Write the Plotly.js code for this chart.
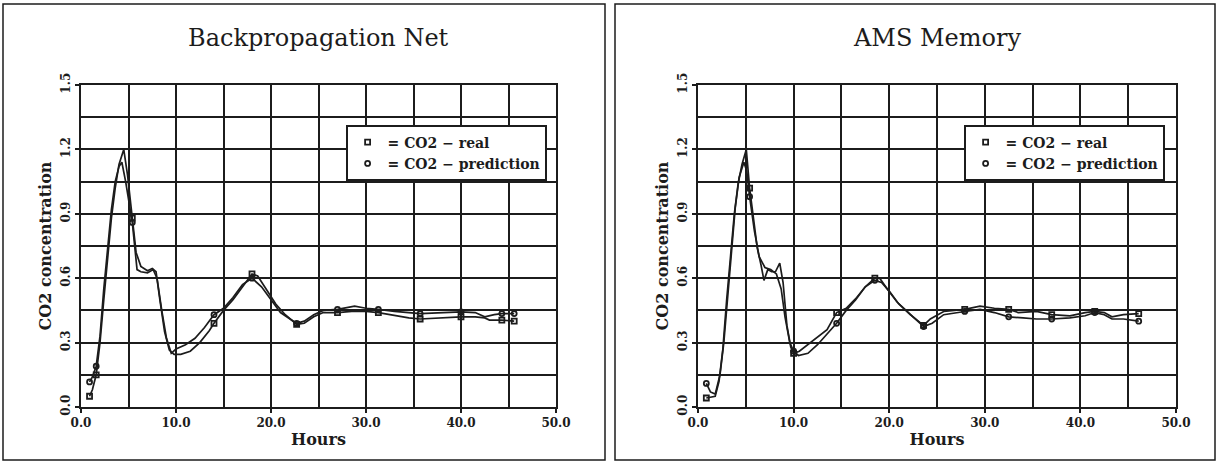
<!DOCTYPE html>
<html>
<head>
<meta charset="utf-8">
<script src="https://cdn.plot.ly/plotly-3.0.1.min.js"></script>
<style>html,body{margin:0;padding:0;background:#fff}#chart{width:1218px;height:462px}</style>
</head>
<body>
<div id="chart"></div>
<script>
// ---------- data ----------
const panelTitles = ['Backpropagation Net', 'AMS Memory'];
const legendNames = ['= CO2 \u2212 real', '= CO2 \u2212 prediction'];
const xTickVals = [0, 10, 20, 30, 40, 50];
const xTickText = ['0.0', '10.0', '20.0', '30.0', '40.0', '50.0'];
const yTickVals = [0, 0.3, 0.6, 0.9, 1.2, 1.5];
const yTickText = ['0.0', '0.3', '0.6', '0.9', '1.2', '1.5'];

// Backpropagation Net
const bpRealHours = [0.9,1.2,1.6,2.0,2.4,2.8,3.2,3.6,4.0,4.5,4.9,5.4,5.8,6.3,7.0,7.5,7.9,8.3,8.8,9.3,9.8,10.5,11.5,12.5,13.5,14,15,16,17,18,18.6,19.5,20.5,21.5,22.7,23.5,24.5,25.5,27,28.5,30,31.3,33,34.5,35.7,37.5,40,41.5,42.5,43,44.3,45.6];
const bpRealCO2 = [0.05,0.08,0.15,0.3,0.5,0.7,0.88,1.02,1.13,1.2,1.08,0.88,0.72,0.655,0.635,0.645,0.63,0.5,0.35,0.265,0.245,0.245,0.26,0.3,0.355,0.39,0.45,0.5,0.56,0.62,0.61,0.55,0.48,0.43,0.385,0.39,0.42,0.44,0.44,0.445,0.445,0.44,0.425,0.415,0.41,0.415,0.42,0.42,0.415,0.405,0.405,0.40];
const bpPredHours = [0.9,1.2,1.6,2.0,2.4,2.8,3.2,3.6,4.0,4.3,4.7,5.4,5.9,6.3,7.0,7.6,8.0,8.5,9.0,9.5,10,11,12,13,14,15,16,17,18,19,20,21,22,22.7,23.5,24.5,25.5,27,28.8,30,31.3,33,35.7,38,40,41.5,42.5,43.5,44.3,45.6];
const bpPredCO2 = [0.117,0.14,0.19,0.33,0.55,0.75,0.92,1.05,1.12,1.14,1.05,0.86,0.64,0.63,0.625,0.64,0.6,0.45,0.32,0.25,0.27,0.29,0.32,0.37,0.43,0.46,0.51,0.57,0.60,0.56,0.5,0.44,0.41,0.39,0.40,0.43,0.45,0.455,0.47,0.46,0.455,0.445,0.435,0.44,0.443,0.44,0.42,0.43,0.435,0.435];
const bpMarkerHours = [0.9,1.6,5.4,14,18,22.7,27,31.3,35.7,40,44.3,45.6];

// AMS Memory
const amsRealHours = [0.87,1.3,1.8,2.2,2.6,3.0,3.4,3.8,4.2,4.6,5.05,5.4,5.8,6.2,6.6,6.9,7.3,7.7,8.1,8.55,8.9,9.3,9.7,10.0,10.6,11.5,12.4,13.5,14.5,15.5,16.6,17.5,18.5,19.0,19.8,20.8,22.2,23.6,24.3,25.7,27.9,29.5,31,32.5,33.5,35.4,37,38.9,40.5,41.5,42.5,43.3,44.5,46.1];
const amsRealCO2 = [0.042,0.045,0.05,0.12,0.27,0.5,0.7,0.9,1.04,1.13,1.2,1.02,0.88,0.74,0.66,0.59,0.64,0.63,0.63,0.67,0.58,0.38,0.28,0.25,0.26,0.29,0.32,0.36,0.44,0.46,0.51,0.56,0.60,0.60,0.55,0.49,0.43,0.38,0.41,0.445,0.455,0.47,0.46,0.455,0.44,0.445,0.43,0.425,0.44,0.445,0.44,0.42,0.43,0.435];
const amsPredHours = [0.87,1.3,1.8,2.3,2.7,3.1,3.5,3.9,4.3,4.8,5.1,5.4,5.9,6.4,7.0,7.6,8.2,8.7,9.1,9.6,10.0,10.5,11.5,12.5,13.5,14.5,15.5,16.5,17.5,18.5,19.2,20,21,22.5,23.6,24.5,25.7,27.9,29.5,31,32.5,34,35.4,37,38.9,40.5,41.5,42.5,43.3,44.5,46.1];
const amsPredCO2 = [0.11,0.07,0.06,0.15,0.3,0.52,0.74,0.93,1.07,1.14,1.1,0.98,0.82,0.7,0.65,0.64,0.62,0.55,0.42,0.3,0.26,0.24,0.25,0.29,0.34,0.39,0.45,0.5,0.56,0.59,0.58,0.54,0.48,0.42,0.375,0.39,0.43,0.445,0.455,0.44,0.42,0.415,0.41,0.41,0.415,0.425,0.44,0.43,0.41,0.41,0.40];
const amsMarkerHours = [0.87,5.4,10.0,14.5,18.5,23.6,27.9,32.5,37,41.5,46.1];

// ---------- drawing ----------
const W = 1218, H = 462;
const INK = '#1c1c1c';
const SERIF = '"DejaVu Serif", "Liberation Serif", serif';

function pick(hours, vals, keep) {
  const xs = [], ys = [];
  hours.forEach((h, i) => { if (keep.includes(h)) { xs.push(h); ys.push(vals[i]); } });
  return {xs, ys};
}

const panels = [
  {real: [bpRealHours, bpRealCO2], pred: [bpPredHours, bpPredCO2], marks: bpMarkerHours, xa: 'x', ya: 'y', legend: 'legend'},
  {real: [amsRealHours, amsRealCO2], pred: [amsPredHours, amsPredCO2], marks: amsMarkerHours, xa: 'x2', ya: 'y2', legend: 'legend2'}
];

const traces = [];
panels.forEach(p => {
  [p.real, p.pred].forEach((s, k) => {
    traces.push({x: s[0], y: s[1], xaxis: p.xa, yaxis: p.ya, mode: 'lines', showlegend: false,
      line: {color: INK, width: 1.7}, hoverinfo: 'x+y'});
  });
  [p.real, p.pred].forEach((s, k) => {
    const m = pick(s[0], s[1], p.marks);
    traces.push({x: m.xs, y: m.ys, xaxis: p.xa, yaxis: p.ya, mode: 'markers', name: legendNames[k],
      legend: p.legend,
      marker: {symbol: k === 0 ? 'square-open' : 'circle-open', size: 5, color: INK, line: {width: 1.8, color: INK}}});
  });
});

const plotX = [[81, 556], [698, 1176]];
const plotY = [85, 407];

function xaxis(i) {
  return {
    domain: [plotX[i][0] / W, plotX[i][1] / W], anchor: i === 0 ? 'y' : 'y2',
    range: [0, 50], tickvals: xTickVals, ticktext: xTickText,
    showgrid: true, gridcolor: INK, gridwidth: 1.8,
    minor: {dtick: 5, tick0: 0, showgrid: true, gridcolor: INK, gridwidth: 1.8, ticks: ''},
    showline: true, mirror: true, linecolor: INK, linewidth: 2,
    ticks: 'outside', ticklen: 4, tickwidth: 1.5, tickcolor: INK,
    zeroline: false, fixedrange: true,
    tickfont: {family: SERIF, size: 12, color: INK, weight: 'bold'},
    title: {text: 'Hours', standoff: 4, font: {family: SERIF, size: 16, color: INK, weight: 'bold'}}
  };
}
function yaxis(i) {
  return {
    domain: [1 - plotY[1] / H, 1 - plotY[0] / H], anchor: i === 0 ? 'x' : 'x2',
    range: [0, 1.5], tickvals: yTickVals, ticktext: yTickText, tickangle: -90,
    showgrid: true, gridcolor: INK, gridwidth: 1.8,
    minor: {dtick: 0.15, tick0: 0, showgrid: true, gridcolor: INK, gridwidth: 1.8, ticks: ''},
    showline: true, mirror: true, linecolor: INK, linewidth: 2,
    ticks: 'outside', ticklen: 4, tickwidth: 1.5, tickcolor: INK,
    zeroline: false, fixedrange: true,
    tickfont: {family: SERIF, size: 12, color: INK, weight: 'bold'},
    title: {text: 'CO2 concentration', standoff: 4, font: {family: SERIF, size: 16, color: INK, weight: 'bold'}}
  };
}
function legend(i) {
  return {
    x: (i === 0 ? 547 : 1165) / W, xanchor: 'right', y: 1 - 125 / H, yanchor: 'top',
    bgcolor: '#fff', bordercolor: INK, borderwidth: 1.6,
    font: {family: SERIF, size: 14, color: INK, weight: 'bold'},
    itemwidth: 30, tracegroupgap: 0, itemclick: false, itemdoubleclick: false
  };
}

const boxes = [[3, 605], [615, 1215]].map(b => ({
  type: 'rect', xref: 'paper', yref: 'paper', layer: 'below',
  x0: b[0] / W, x1: b[1] / W, y0: 1 - 460 / H, y1: 1 - 4 / H,
  line: {color: INK, width: 1.5}, fillcolor: 'rgba(0,0,0,0)'
}));

const titles = panelTitles.map((t, i) => ({
  text: t, showarrow: false, xref: 'paper', yref: 'paper',
  x: (plotX[i][0] + plotX[i][1]) / 2 / W, y: 1 - 38 / H, xanchor: 'center', yanchor: 'middle',
  font: {family: SERIF, size: 24, color: INK}
}));

const layout = {
  width: W, height: H, margin: {l: 0, r: 0, t: 0, b: 0},
  paper_bgcolor: '#fff', plot_bgcolor: '#fff',
  xaxis: xaxis(0), yaxis: yaxis(0), xaxis2: xaxis(1), yaxis2: yaxis(1),
  legend: legend(0), legend2: legend(1),
  shapes: boxes, annotations: titles, hovermode: 'closest'
};

Plotly.newPlot('chart', traces, layout, {displayModeBar: false, staticPlot: false});
</script>
</body>
</html>
